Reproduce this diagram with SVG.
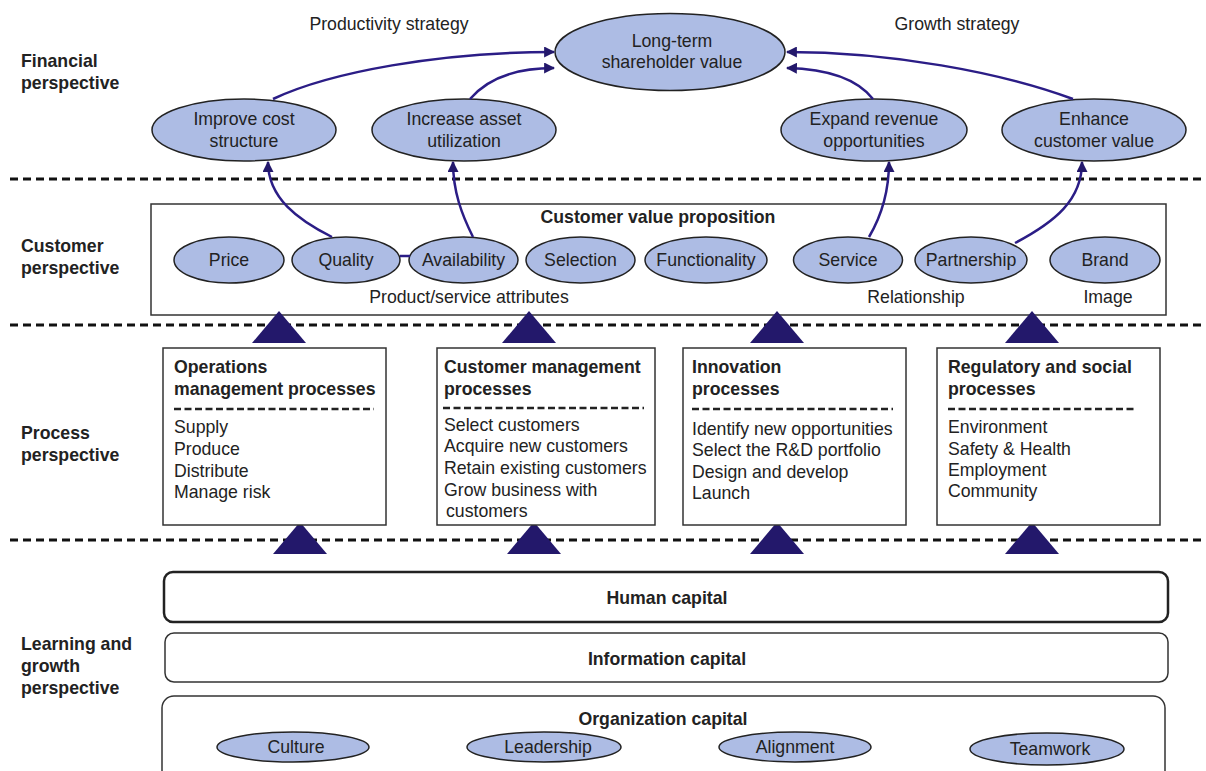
<svg xmlns="http://www.w3.org/2000/svg" width="1206" height="771" viewBox="0 0 1206 771">
<defs>
<style>
text{font-family:"Liberation Sans",Arial,sans-serif;font-size:17.7px;fill:#222}
.b{font-weight:bold}
.m{text-anchor:middle}
.lab{font-weight:bold;font-size:17.7px}
.ell{fill:#adbce4;stroke:#222;stroke-width:1.5}
.box{fill:#fff;stroke:#333;stroke-width:1.5}
.sep{stroke:#111;stroke-width:3;stroke-dasharray:8 5;fill:none}
.isep{stroke:#222;stroke-width:2.5;stroke-dasharray:7 3.5;fill:none}
.con{fill:none;stroke:#2b1d86;stroke-width:2.5}
.tri{fill:#23186b}
</style>
<marker id="ah" viewBox="0 0 10 10" refX="9" refY="5" markerWidth="11" markerHeight="11" markerUnits="userSpaceOnUse" orient="auto">
<path d="M0,0 L10,5 L0,10 Z" fill="#23186b"/>
</marker>
</defs>

<g id="separators">
<line class="sep" x1="10" y1="179" x2="1206" y2="179"/>
<line class="sep" x1="10" y1="325" x2="1206" y2="325"/>
<line class="sep" x1="10" y1="540" x2="1206" y2="540"/>
</g>

<g id="perspective-labels">
<text class="lab" x="21" y="67">Financial</text>
<text class="lab" x="21" y="89">perspective</text>
<text class="lab" x="21" y="252">Customer</text>
<text class="lab" x="21" y="274">perspective</text>
<text class="lab" x="21" y="439">Process</text>
<text class="lab" x="21" y="461">perspective</text>
<text class="lab" x="21" y="650">Learning and</text>
<text class="lab" x="21" y="672">growth</text>
<text class="lab" x="21" y="694">perspective</text>
</g>

<g id="strategy-labels">
<text class="m" x="389" y="30">Productivity strategy</text>
<text class="m" x="957" y="30">Growth strategy</text>
</g>

<g id="long-term">
<ellipse class="ell" cx="670" cy="52" rx="115" ry="38.5"/>
<text class="m" x="672" y="47">Long-term</text>
<text class="m" x="672" y="68">shareholder value</text>
</g>
<g id="improve-cost">
<ellipse class="ell" cx="244" cy="130" rx="92" ry="31"/>
<text class="m" x="244" y="125">Improve cost</text>
<text class="m" x="244" y="147">structure</text>
</g>
<g id="increase-asset">
<ellipse class="ell" cx="464" cy="130" rx="92" ry="31"/>
<text class="m" x="464" y="125">Increase asset</text>
<text class="m" x="464" y="147">utilization</text>
</g>
<g id="expand-revenue">
<ellipse class="ell" cx="874" cy="130" rx="93" ry="31"/>
<text class="m" x="874" y="125">Expand revenue</text>
<text class="m" x="874" y="147">opportunities</text>
</g>
<g id="enhance-value">
<ellipse class="ell" cx="1094" cy="130" rx="92" ry="31"/>
<text class="m" x="1094" y="125">Enhance</text>
<text class="m" x="1094" y="147">customer value</text>
</g>

<g id="customer-value-proposition">
<rect class="box" x="151" y="204" width="1015" height="111"/>
<text class="b m" x="658" y="223">Customer value proposition</text>
<text class="m" x="469" y="303">Product/service attributes</text>
<text class="m" x="916" y="303">Relationship</text>
<text class="m" x="1108" y="303">Image</text>
</g>
<g id="price"><ellipse class="ell" cx="229" cy="260" rx="55" ry="23"/><text class="m" x="229" y="266">Price</text></g>
<g id="quality"><ellipse class="ell" cx="346" cy="260" rx="54" ry="23"/><text class="m" x="346" y="266">Quality</text></g>
<g id="availability"><ellipse class="ell" cx="463.5" cy="260" rx="54.5" ry="23"/><text class="m" x="463.5" y="266">Availability</text></g>
<g id="selection"><ellipse class="ell" cx="580.5" cy="260" rx="54.5" ry="23"/><text class="m" x="580.5" y="266">Selection</text></g>
<g id="functionality"><ellipse class="ell" cx="706" cy="260" rx="61" ry="23"/><text class="m" x="706" y="266">Functionality</text></g>
<g id="service"><ellipse class="ell" cx="848" cy="260" rx="54.5" ry="23"/><text class="m" x="848" y="266">Service</text></g>
<g id="partnership"><ellipse class="ell" cx="971" cy="260" rx="56" ry="23"/><text class="m" x="971" y="266">Partnership</text></g>
<g id="brand"><ellipse class="ell" cx="1105" cy="260" rx="55" ry="23"/><text class="m" x="1105" y="266">Brand</text></g>

<g id="connectors">
<path class="con" marker-end="url(#ah)" d="M273,99 C330,72 440,52 554,52"/>
<path class="con" marker-end="url(#ah)" d="M470,99 C488,78 515,68 554,68"/>
<path class="con" marker-end="url(#ah)" d="M1073,99 C1000,72 890,52 787,52"/>
<path class="con" marker-end="url(#ah)" d="M873,99 C858,80 830,69 787,68"/>
<path class="con" marker-end="url(#ah)" d="M332,237 C298,220 268,198 268,162"/>
<path class="con" marker-end="url(#ah)" d="M473,237 C462,215 453,192 453,162"/>
<path class="con" marker-end="url(#ah)" d="M869,237 C882,215 889,192 889,162"/>
<path class="con" marker-end="url(#ah)" d="M1015,243 C1055,222 1082,200 1082,162"/>
<line class="con" x1="400" y1="256" x2="410" y2="256"/>
<g id="triangles">
<polygon class="tri" points="279,311 252,343 306,343"/>
<polygon class="tri" points="529,311 502,343 556,343"/>
<polygon class="tri" points="777,311 750,343 804,343"/>
<polygon class="tri" points="1032,311 1005,343 1059,343"/>
<polygon class="tri" points="300,522 273,554 327,554"/>
<polygon class="tri" points="534,522 507,554 561,554"/>
<polygon class="tri" points="777,522 750,554 804,554"/>
<polygon class="tri" points="1032,522 1005,554 1059,554"/>
</g>
</g>

<g id="operations">
<rect class="box" x="163" y="348" width="223" height="177"/>
<text class="b" x="174" y="373">Operations</text>
<text class="b" x="174" y="395">management processes</text>
<line class="isep" x1="174" y1="409" x2="374" y2="409"/>
<text x="174" y="433">Supply</text>
<text x="174" y="455">Produce</text>
<text x="174" y="477">Distribute</text>
<text x="174" y="498">Manage risk</text>
</g>
<g id="customer-management">
<rect class="box" x="437" y="348" width="218" height="177"/>
<text class="b" x="444" y="373">Customer management</text>
<text class="b" x="444" y="395">processes</text>
<line class="isep" x1="443" y1="408" x2="644" y2="408"/>
<text x="444" y="431">Select customers</text>
<text x="444" y="452">Acquire new customers</text>
<text x="444" y="474">Retain existing customers</text>
<text x="444" y="496">Grow business with</text>
<text x="446" y="517">customers</text>
</g>
<g id="innovation">
<rect class="box" x="683" y="348" width="223" height="177"/>
<text class="b" x="692" y="373">Innovation</text>
<text class="b" x="692" y="395">processes</text>
<line class="isep" x1="692" y1="409" x2="893" y2="409"/>
<text x="692" y="435">Identify new opportunities</text>
<text x="692" y="456">Select the R&amp;D portfolio</text>
<text x="692" y="478">Design and develop</text>
<text x="692" y="499">Launch</text>
</g>
<g id="regulatory">
<rect class="box" x="937" y="348" width="223" height="177"/>
<text class="b" x="948" y="373">Regulatory and social</text>
<text class="b" x="948" y="395">processes</text>
<line class="isep" x1="948" y1="409" x2="1134" y2="409"/>
<text x="948" y="433">Environment</text>
<text x="948" y="455">Safety &amp; Health</text>
<text x="948" y="476">Employment</text>
<text x="948" y="497">Community</text>
</g>

<g id="human-capital">
<rect x="164" y="572" width="1004" height="50" rx="9" fill="#fff" stroke="#222" stroke-width="2.5"/>
<text class="b m" x="667" y="604">Human capital</text>
</g>
<g id="information-capital">
<rect x="165" y="633" width="1003" height="49" rx="9" fill="#fff" stroke="#333" stroke-width="1.5"/>
<text class="b m" x="667" y="665">Information capital</text>
</g>
<g id="organization-capital">
<rect x="162" y="696" width="1003" height="90" rx="12" fill="#fff" stroke="#333" stroke-width="1.5"/>
<text class="b m" x="663" y="725">Organization capital</text>
</g>
<g id="culture"><ellipse class="ell" cx="293" cy="747" rx="76" ry="15"/><text class="m" x="296" y="753">Culture</text></g>
<g id="leadership"><ellipse class="ell" cx="544" cy="747" rx="77" ry="15"/><text class="m" x="548" y="753">Leadership</text></g>
<g id="alignment"><ellipse class="ell" cx="795" cy="747" rx="76" ry="15"/><text class="m" x="795" y="753">Alignment</text></g>
<g id="teamwork"><ellipse class="ell" cx="1047" cy="749" rx="77" ry="16"/><text class="m" x="1050" y="755">Teamwork</text></g>
</svg>
